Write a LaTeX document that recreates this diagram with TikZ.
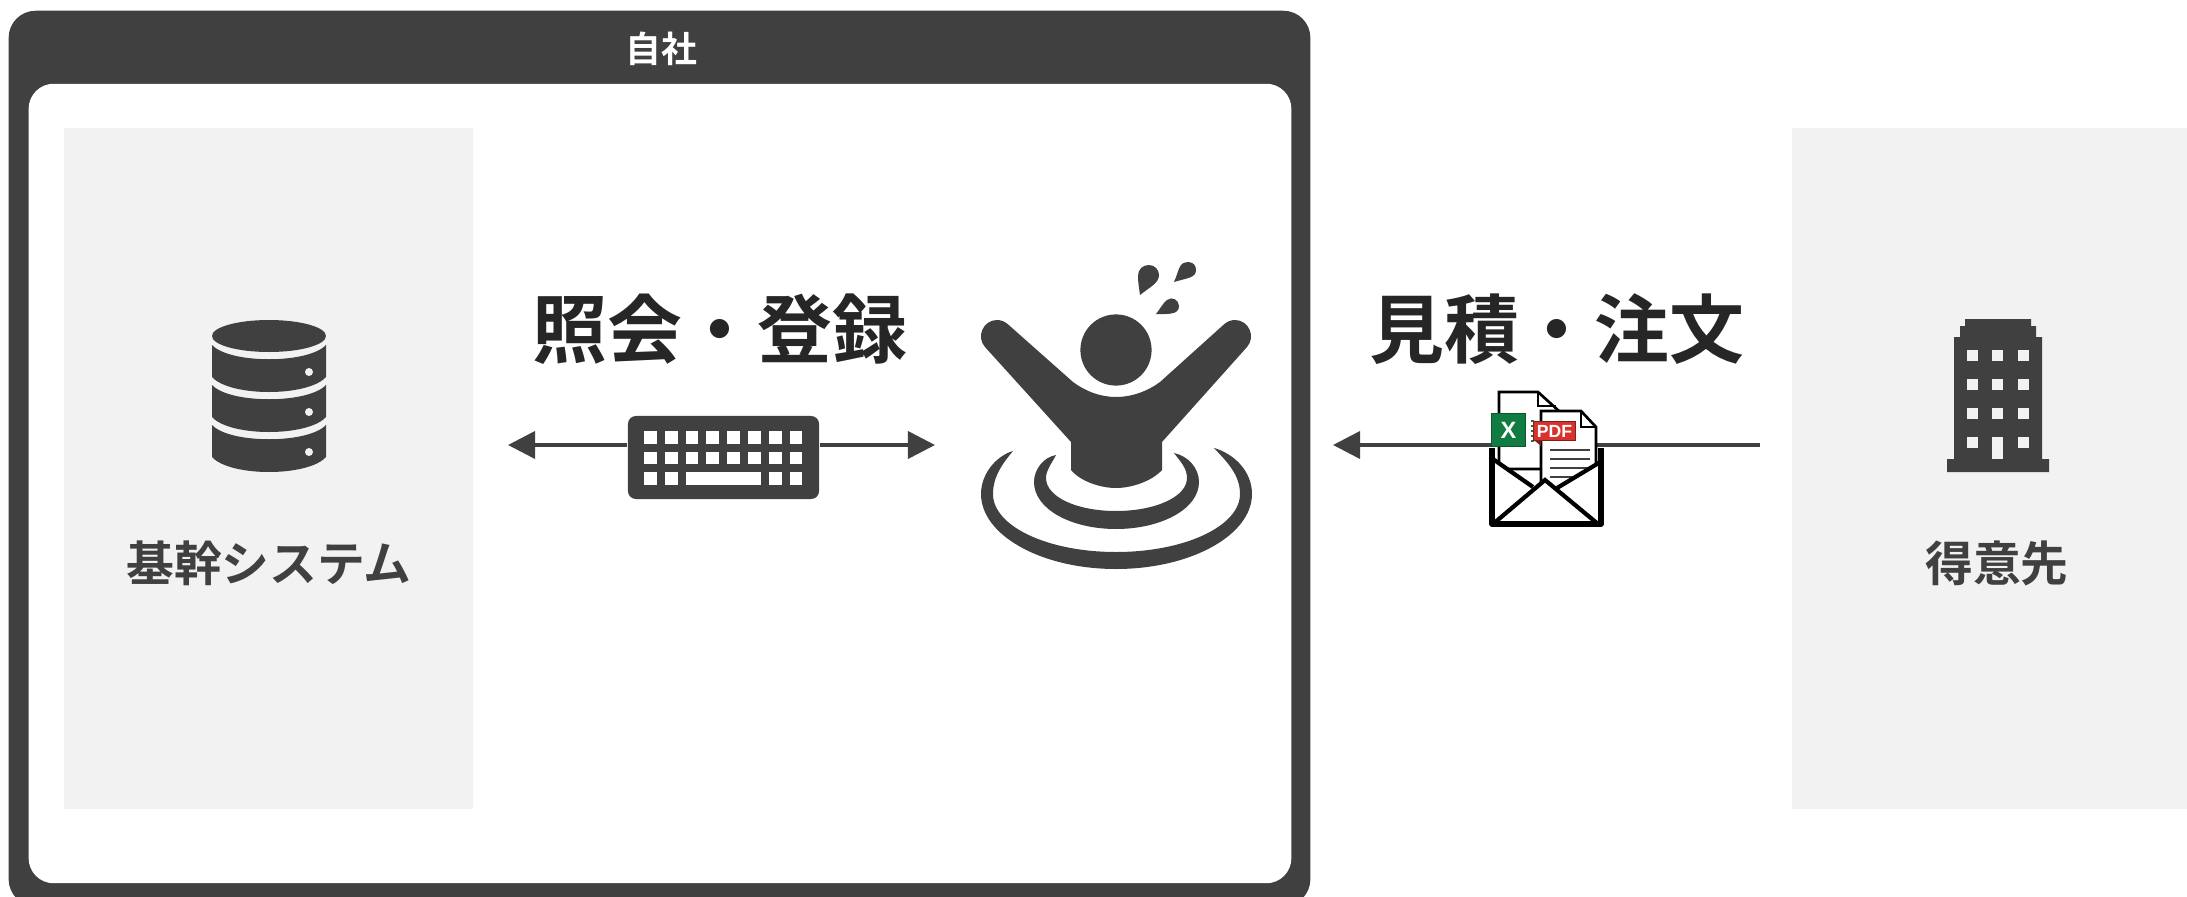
\documentclass[tikz,border=0pt]{standalone}
\usepackage{fontspec}
\setmainfont{Noto Sans CJK JP}[BoldFont={Noto Sans CJK JP Bold}]
\newfontfamily\latinfont{Liberation Sans}
\usetikzlibrary{arrows.meta}
\definecolor{darkgrey}{HTML}{404040}
\definecolor{inkgrey}{HTML}{262626}
\definecolor{panelgrey}{HTML}{F2F2F2}
\definecolor{xlgreen}{HTML}{107C41}
\definecolor{pdfred}{HTML}{D9322E}
\begin{document}
\begin{tikzpicture}[x=0.01cm, y=-0.01cm,
  panel/.style={rectangle, fill=panelgrey, inner sep=0pt},
  bigtext/.style={inner sep=0pt, font=\fontsize{21.3pt}{24pt}\selectfont\bfseries, text=inkgrey},
  paneltext/.style={inner sep=0pt, font=\fontsize{13.6pt}{16pt}\selectfont\bfseries, text=darkgrey},
  flow/.style={draw=darkgrey, line width=0.036cm, -{Triangle[length=2.7mm, width=2.7mm]}},
  icon/.style={fill=darkgrey, draw=none},
  docline/.style={draw=black, line width=0.27mm},
  envline/.style={draw=black, line width=0.42mm}]
\useasboundingbox (0,0) rectangle (2187,897);
\node[rectangle, fill=darkgrey, rounded corners=0.27cm, minimum width=13.01cm, minimum height=8.95cm, inner sep=0pt] (frame) at (659.5,458.5) {};
\node[rectangle, fill=white, rounded corners=0.25cm, minimum width=12.62cm, minimum height=7.99cm, inner sep=0pt] (inner) at (660,483.5) {};
\node[inner sep=0pt, text=white, font=\fontsize{10.2pt}{12pt}\selectfont\bfseries] (company) at (661,49) {自社};
\node[panel, minimum width=4.09cm, minimum height=6.81cm] (system) at (268.5,468.5) {};
\node[panel, minimum width=3.95cm, minimum height=6.81cm] (customer) at (1989.5,468.5) {};
\node[paneltext] (systemlabel) at (269,563) {基幹システム};
\node[paneltext] (customerlabel) at (1997,563) {得意先};
\node[bigtext] (inquiry) at (720,329) {照会・登録};
\node[bigtext] (quote) at (1557,329) {見積・注文};

\node[rectangle, fill=darkgrey, rounded corners=0.08cm, minimum width=1.91cm, minimum height=0.83cm, inner sep=0pt] (keyboard) at (723.5,457.5) {};
\coordinate (systemend) at (508,445);
\coordinate (personend) at (935,445);
\coordinate (customerend) at (1760,445);
\coordinate (personend2) at (1333,445);
\draw[flow] (keyboard.west |- systemend) -- (systemend);
\draw[flow] (keyboard.east |- personend) -- (personend);
\draw[flow] (customerend) -- (personend2);
\foreach \kx in {0,...,7} \foreach \ky in {431,451.5} {
  \fill[white] (644+\kx*20.8,\ky) rectangle ++(12.7,12.7);
}
\foreach \kx in {0,1,6,7} {
  \fill[white] (644+\kx*20.8,472) rectangle ++(12.7,12.7);
}
\fill[white] (686,472) rectangle (761,484.7);

\fill[icon] (212,336) arc[start angle=180, end angle=540, x radius=57, y radius=16];
\foreach \dy in {0,40,80} {
  \fill[icon] (212,345+\dy) .. controls (230,364+\dy) and (308,364+\dy) .. (326,345+\dy) -- (326,377+\dy) .. controls (308,397+\dy) and (230,397+\dy) .. (212,377+\dy) -- cycle;
  \fill[panelgrey] (309,372+\dy) circle[radius=4];
}

\fill[icon] (1947,472) -- (1947,459) -- (1954,459) -- (1954,337) -- (1960,337) -- (1960,326) -- (1965,326) -- (1965,319) -- (2031,319) -- (2031,326) -- (2036,326) -- (2036,337) -- (2042,337) -- (2042,459) -- (2049,459) -- (2049,472) -- cycle;
\foreach \wx in {1967,1992,2018} \foreach \wy in {350,379,408,437} {
  \fill[panelgrey] (\wx,\wy) rectangle ++(11,11);
}
\fill[panelgrey] (1992,437) rectangle (2003,459);

\fill[icon] (1116,350) circle[radius=35.6];
\fill[icon] (985,347) -- (1071,442) -- (1071,470) .. controls (1080,481) and (1100,488) .. (1116,488) .. controls (1132,488) and (1152,481) .. (1162,470) -- (1162,442) -- (1247,347) .. controls (1256,337) and (1249,320) .. (1235,320) .. controls (1231,320) and (1227.5,321.5) .. (1224.4,324) -- (1160,382) .. controls (1148,391) and (1132,397) .. (1116,397) .. controls (1100,397) and (1085,391) .. (1073,382) -- (1007.6,324) .. controls (1004.5,321.5) and (1001,320) .. (997,320) .. controls (983,320) and (976,337) .. (985,347) -- cycle;
\fill[icon] (1056,455) .. controls (1044,457) and (1034,469) .. (1034,482) .. controls (1034,509) and (1071,529) .. (1116,529) .. controls (1161,529) and (1199,509) .. (1199,482) .. controls (1199,468) and (1188,456) .. (1174,453) .. controls (1180,461) and (1187,468) .. (1187,478) .. controls (1187,497) and (1155,511) .. (1116,511) .. controls (1077,511) and (1046,497) .. (1046,478) .. controls (1046,470) and (1052,463) .. (1056,455) -- cycle;
\fill[icon] (1013,451) .. controls (996,456) and (981,474) .. (981,494) .. controls (981,535) and (1041,569) .. (1116,569) .. controls (1191,569) and (1252,535) .. (1252,494) .. controls (1252,472) and (1235,454) .. (1214,448) .. controls (1226,461) and (1240,474) .. (1240,494) .. controls (1240,526) and (1185,552) .. (1116,552) .. controls (1047,552) and (993,526) .. (993,494) .. controls (993,476) and (1003,463) .. (1013,451) -- cycle;
\fill[icon] (1140,295) .. controls (1139,288) and (1138,282) .. (1138,276) .. controls (1138,269) and (1143,265) .. (1149,265) .. controls (1155,265) and (1159,270) .. (1159,275) .. controls (1159,283) and (1150,287) .. (1140,295) -- cycle;
\fill[icon] (1174,282) .. controls (1177,276) and (1178,269) .. (1181,265) .. controls (1184,261) and (1196,260) .. (1196,270) .. controls (1196,278) and (1187,278) .. (1174,282) -- cycle;
\fill[icon] (1156,314) .. controls (1160,309) and (1163,303) .. (1167,300) .. controls (1172,296) and (1179,300) .. (1179,306) .. controls (1179,315) and (1168,314) .. (1156,314) -- cycle;

\filldraw[fill=white, docline] (1499,469) -- (1499,392) -- (1538,392) -- (1560,412) -- (1560,469) -- cycle;
\draw[docline] (1538,392) -- (1538,406) -- (1556,406);
\draw[xlgreen, line width=0.03cm, dash pattern=on 0.02cm off 0.03cm] (1532,420) -- (1532,442);
\node[rectangle, fill=xlgreen, draw=xlgreen!70!black, line width=0.1mm, minimum width=0.34cm, minimum height=0.33cm, inner sep=0pt, text=white, font=\fontsize{6.7pt}{7pt}\selectfont\latinfont\bfseries] (excel) at (1508.5,430) {X};
\filldraw[fill=white, docline] (1541,490) -- (1541,411) -- (1581,411) -- (1596,427) -- (1596,490) -- cycle;
\draw[docline] (1581,411) -- (1581,427) -- (1596,427);
\fill[pdfred!60!black] (1535,441) -- (1541,441) -- (1541,446) -- cycle;
\node[rectangle, fill=pdfred, draw=pdfred!60!black, line width=0.1mm, minimum width=0.42cm, minimum height=0.19cm, inner sep=0pt, text=white, font=\fontsize{5pt}{6pt}\selectfont\latinfont\bfseries] (pdf) at (1554.5,431) {PDF};
\foreach \ly in {450,459,468,477} {
  \draw[draw=darkgrey, line width=0.025cm] (1550,\ly) -- (1590,\ly);
}
\fill[white] (1494,459) -- (1533,487) -- (1545,479) -- (1557,488) -- (1599,461) -- (1599,522) -- (1494,522) -- cycle;
\draw[envline, line join=round, line width=0.52mm] (1492,448) -- (1492,524) -- (1601,524) -- (1601,448);
\draw[envline] (1490,457) -- (1533,487);
\draw[envline] (1602,461) -- (1557,488);
\draw[envline] (1493,524) -- (1545,480) -- (1598,524);
\end{tikzpicture}
\end{document}
